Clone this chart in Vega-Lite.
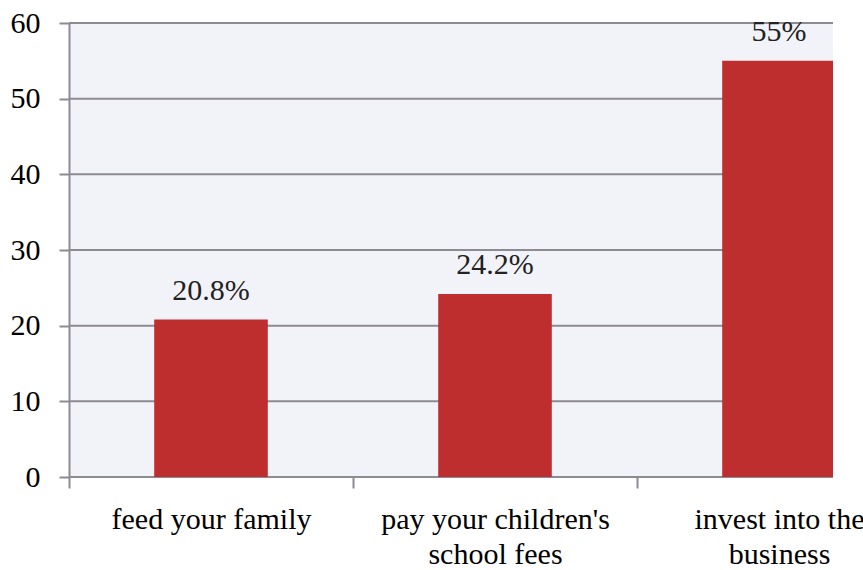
{
  "$schema": "https://vega.github.io/schema/vega-lite/v6.json",
  "width": 764,
  "height": 454,
  "autosize": {"type": "none"},
  "padding": {"left": 69, "top": 23, "right": 30, "bottom": 93},
  "background": "white",
  "config": {
    "view": {"fill": "#F2F3F9", "stroke": null},
    "font": "Liberation Serif"
  },
  "layer": [
    {
      "data": {"values": [{"g": 0}, {"g": 10}, {"g": 20}, {"g": 30}, {"g": 40}, {"g": 50}, {"g": 60}]},
      "mark": {"type": "rule", "color": "#8E8A94", "strokeWidth": 2},
      "encoding": {
        "y": {
          "field": "g",
          "type": "quantitative",
          "scale": {"domain": [0, 60], "nice": false},
          "axis": {
            "title": null,
            "grid": false,
            "values": [0, 10, 20, 30, 40, 50, 60],
            "tickSize": 10,
            "tickWidth": 2,
            "tickColor": "#8E8A94",
            "domainColor": "#8E8A94",
            "domainWidth": 2,
            "labelFont": "Liberation Serif",
            "labelFontSize": 30,
            "labelPadding": 19,
            "labelColor": "#000000"
          }
        }
      }
    },
    {
      "data": {
        "values": [
          {"category": "feed your family", "value": 20.8, "label": "20.8%"},
          {"category": "pay your children's|school fees", "value": 24.2, "label": "24.2%"},
          {"category": "invest into the|business", "value": 55, "label": "55%"}
        ]
      },
      "encoding": {
        "x": {
          "field": "category",
          "type": "nominal",
          "sort": null,
          "scale": {"range": [0, 852], "paddingInner": 0, "paddingOuter": 0},
          "axis": {
            "title": null,
            "labelAngle": 0,
            "domain": false,
            "grid": false,
            "tickBand": "extent",
            "tickSize": 11,
            "tickWidth": 2,
            "tickColor": "#8E8A94",
            "labelFont": "Liberation Serif",
            "labelFontSize": 30,
            "labelColor": "#000000",
            "labelPadding": 16,
            "labelLineHeight": 35,
            "labelLimit": 0,
            "labelExpr": "split(datum.label, '|')"
          }
        }
      },
      "layer": [
        {
          "mark": {"type": "bar", "color": "#BF2E2E", "width": {"band": 0.4}, "clip": true},
          "encoding": {"y": {"field": "value", "type": "quantitative"}}
        },
        {
          "mark": {"type": "text", "dy": -29, "fontSize": 30, "font": "Liberation Serif", "color": "#222222"},
          "encoding": {
            "y": {"field": "value", "type": "quantitative"},
            "text": {"field": "label"}
          }
        }
      ]
    }
  ]
}
